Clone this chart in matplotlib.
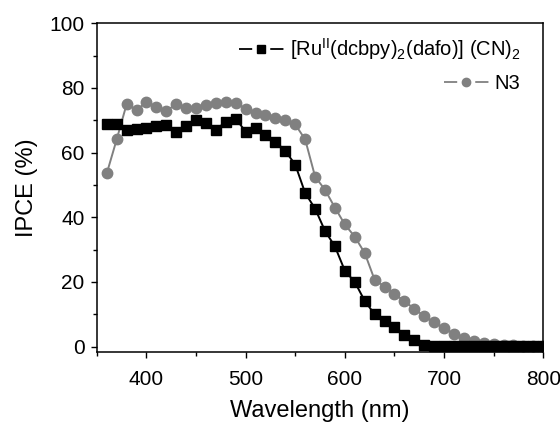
import matplotlib
matplotlib.use("Agg")
import matplotlib.pyplot as plt
from matplotlib.lines import Line2D
from matplotlib.legend_handler import HandlerTuple

plt.rcParams['font.family'] = ['Liberation Sans', 'DejaVu Sans']
plt.rcParams['mathtext.fontset'] = 'custom'
plt.rcParams['mathtext.rm'] = 'Liberation Sans'
plt.rcParams['mathtext.it'] = 'Liberation Sans:italic'
plt.rcParams['lines.scale_dashes'] = False

# wavelength grid (nm)
wl = list(range(360, 810, 10))

# [Ru(II)(dcbpy)2(dafo)](CN)2
ru_ipce = [68.9, 68.7, 67.0, 67.3, 67.7, 68.2, 68.4, 66.4, 68.2, 70.0,
           69.3, 67.0, 69.6, 70.5, 66.5, 67.7, 65.3, 63.4, 60.5, 56.3,
           47.5, 42.7, 35.8, 31.0, 23.5, 20.0, 14.2, 10.0, 8.0, 6.0,
           3.7, 2.0, 0.5, 0.3, 0.3, 0.2, 0.2, 0.2, 0.1, 0.1,
           0.1, 0.1, 0.1, 0.1, 0.1]

# N3 reference dye
n3_ipce = [53.6, 64.1, 75.0, 73.2, 75.6, 74.2, 73.0, 74.9, 73.9, 73.9,
           74.7, 75.4, 75.7, 75.4, 73.6, 72.1, 71.5, 70.6, 70.0, 68.7,
           64.1, 52.6, 48.5, 43.0, 37.8, 34.0, 29.0, 20.7, 18.6, 16.4,
           14.0, 11.8, 9.4, 7.5, 5.7, 4.0, 2.7, 1.6, 1.0, 0.7,
           0.5, 0.4, 0.3, 0.3, 0.3]

ru_label = r'[Ru$^{\rm II}$(dcbpy)$_2$(dafo)] (CN)$_2$'
n3_label = 'N3'
grey = '#808080'

fig = plt.figure(figsize=(5.6, 4.23), dpi=100)
ax = fig.add_axes([0.173, 0.169, 0.797, 0.776])

ax.plot(wl, n3_ipce, color=grey, lw=1.4, marker='o', ms=7.5,
        mec=grey, mfc=grey, zorder=2)
ax.plot(wl, ru_ipce, color='black', lw=1.4, marker='s', ms=7,
        mec='black', mfc='black', zorder=3)

ax.set_xlim(350, 800)
ax.set_ylim(-1.5, 100)
ax.set_xticks(range(400, 801, 100))
ax.set_xticks(range(350, 801, 50), minor=True)
ax.set_yticks(range(0, 101, 20))
ax.set_yticks(range(10, 101, 20), minor=True)
ax.tick_params(which='major', direction='out', length=4.5, width=1,
               labelsize=15, top=False, right=False)
ax.tick_params(which='minor', direction='out', length=2.7, width=1,
               top=False, right=False)
ax.tick_params(axis='x', which='major', pad=9)
ax.tick_params(axis='y', which='major', pad=4.5)
for s in ax.spines.values():
    s.set_linewidth(1.1)

ax.set_xlabel('Wavelength (nm)', fontsize=17, labelpad=8)
ax.set_ylabel('IPCE (%)', fontsize=17, labelpad=8)


# legend handles: line - gap - marker - gap - line, like the original
def make_handle(color, marker, ms):
    seg = Line2D([], [], color=color, lw=1.3, ls=(0, (9.5, 13, 9.5, 100)))
    mk = Line2D([], [], color=color, lw=0, marker=marker, ms=ms)
    return (seg, mk)


# two legends so each entry sits right-aligned like the original
leg_kw = dict(loc='upper right', frameon=False, fontsize=14.5,
              handlelength=2.2, handletextpad=0.3, borderaxespad=0,
              handler_map={tuple: HandlerTuple(ndivide=1, pad=0)})
leg1 = ax.legend([make_handle('black', 's', 5.5)], [ru_label],
                 bbox_to_anchor=(0.967, 0.985), **leg_kw)
ax.add_artist(leg1)
ax.legend([make_handle(grey, 'o', 6)], [n3_label],
          bbox_to_anchor=(0.967, 0.87), **leg_kw)

fig.savefig('out.png', dpi=100)
